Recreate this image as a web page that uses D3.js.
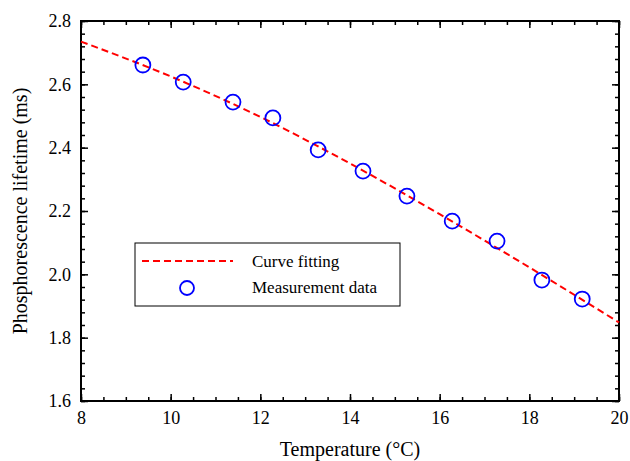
<!DOCTYPE html>
<html>
<head>
<meta charset="utf-8">
<script src="https://cdn.jsdelivr.net/npm/d3@7"></script>
<style>
  body { margin: 0; background: #fff; }
  svg text { font-family: "Liberation Serif", "Times New Roman", serif; fill: #000; }
</style>
</head>
<body>
<div id="chart"></div>
<script>
// measured points
const tempData = [9.38, 10.28, 11.39, 12.28, 13.29, 14.29, 15.27, 16.28, 17.28, 18.28, 19.18];
const lifeData = [2.661, 2.607, 2.544, 2.494, 2.393, 2.326, 2.247, 2.168, 2.105, 1.982, 1.922];
// fitted curve, read at each even degree
const fitTemp = [8, 10, 12, 14, 16, 18, 20];
const fitLife = [2.735, 2.625, 2.497, 2.350, 2.190, 2.022, 1.848];
const xTicks = [8, 10, 12, 14, 16, 18, 20];
const yTicks = [1.6, 1.8, 2.0, 2.2, 2.4, 2.6, 2.8];

const W = 630, H = 461;
const margin = { top: 21, right: 11, bottom: 60, left: 81 };
const width = W - margin.left - margin.right,
      height = H - margin.top - margin.bottom;

const svg = d3.select("#chart").append("svg")
    .attr("width", W).attr("height", H);
const g = svg.append("g").attr("transform", `translate(${margin.left},${margin.top})`);

const x = d3.scaleLinear().domain([8, 20]).range([0, width]);
const y = d3.scaleLinear().domain([1.6, 2.8]).range([height, 0]);

const xMinor = d3.range(8, 20.001, 0.5);
const yMinor = d3.range(0, 31).map(i => 1.6 + i * 0.04);

// every tick points into the plot, so tickSize is negative on all four sides
function addAxis(axisFn, scale, vals, len, tf, shift) {
    const ax = g.append("g")
        .call(axisFn(scale).tickValues(vals).tickSize(-len).tickPadding(tf ? 10 : 3)
            .tickFormat(tf || (() => "")));
    if (shift) ax.attr("transform", shift);
    ax.select(".domain").remove();
    ax.selectAll(".tick line").attr("stroke", "#000").attr("stroke-width", 1.5);
    return ax;
}
addAxis(d3.axisBottom, x, xMinor, 4, null, `translate(0,${height})`);
addAxis(d3.axisTop, x, xMinor, 4);
addAxis(d3.axisLeft, y, yMinor, 4);
addAxis(d3.axisRight, y, yMinor, 4, null, `translate(${width},0)`);
addAxis(d3.axisBottom, x, xTicks, 7, d3.format("d"), `translate(0,${height})`);
addAxis(d3.axisTop, x, xTicks, 7);
addAxis(d3.axisLeft, y, yTicks, 7, d3.format(".1f"));
addAxis(d3.axisRight, y, yTicks, 7, null, `translate(${width},0)`);

g.selectAll(".tick text").style("font-size", "18px");

// frame
g.append("rect").attr("width", width).attr("height", height)
    .attr("fill", "none").attr("stroke", "#000").attr("stroke-width", 2);

// fitted curve
const fit = fitTemp.map((t, i) => [t, fitLife[i]]);
g.append("path").datum(fit)
    .attr("d", d3.line().x(d => x(d[0])).y(d => y(d[1])).curve(d3.curveMonotoneX))
    .attr("fill", "none").attr("stroke", "#ff0000").attr("stroke-width", 2)
    .attr("stroke-dasharray", "7,4");

// measurement circles
g.selectAll(".pt").data(tempData).enter().append("circle")
    .attr("class", "pt")
    .attr("cx", d => x(d)).attr("cy", (d, i) => y(lifeData[i]))
    .attr("r", 7.5).attr("fill", "none").attr("stroke", "#0000ff").attr("stroke-width", 1.8);

// axis titles
svg.append("text").attr("x", margin.left + width / 2).attr("y", 456)
    .attr("text-anchor", "middle").style("font-size", "20px").text("Temperature (°C)");
svg.append("text").attr("transform", `translate(27,${margin.top + height / 2}) rotate(-90)`)
    .attr("text-anchor", "middle").style("font-size", "20px").text("Phosphorescence lifetime (ms)");

// legend
const lg = svg.append("g").attr("transform", "translate(135,243)");
lg.append("rect").attr("width", 265).attr("height", 63)
    .attr("fill", "#fff").attr("stroke", "#000").attr("stroke-width", 1);
lg.append("line").attr("x1", 7).attr("x2", 98).attr("y1", 18).attr("y2", 18)
    .attr("stroke", "#ff0000").attr("stroke-width", 2).attr("stroke-dasharray", "7,4");
lg.append("circle").attr("cx", 52).attr("cy", 45).attr("r", 7)
    .attr("fill", "none").attr("stroke", "#0000ff").attr("stroke-width", 1.8);
lg.append("text").attr("x", 117).attr("y", 24).style("font-size", "17px").text("Curve fitting");
lg.append("text").attr("x", 117).attr("y", 50).style("font-size", "17px").text("Measurement data");
</script>
</body>
</html>
